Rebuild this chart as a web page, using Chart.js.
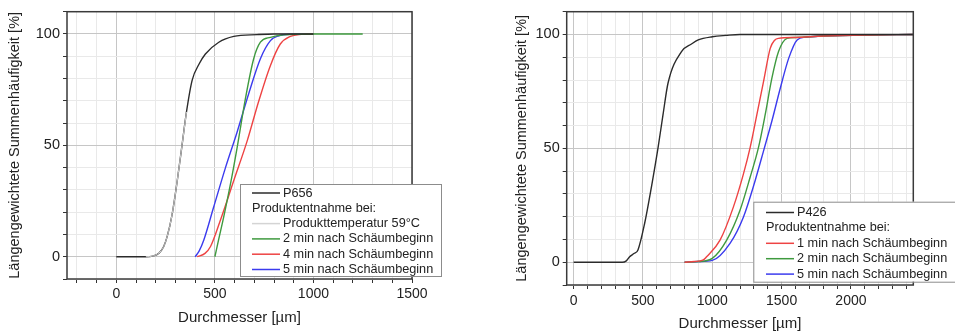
<!DOCTYPE html>
<html>
<head>
<meta charset="utf-8">
<script src="https://cdn.jsdelivr.net/npm/chart.js@4"></script>
<style>
  html, body { margin: 0; padding: 0; background: #fff; }
  #wrap { position: relative; width: 955px; height: 333px; overflow: hidden; }
  .panel { position: absolute; top: 0; height: 333px; }
  #left { left: 0; width: 480px; }
  #right { left: 480px; width: 475px; }
</style>
</head>
<body>
<div id="wrap">
  <div class="panel" id="left"><canvas id="c1" width="480" height="333"></canvas></div>
  <div class="panel" id="right"><canvas id="c2" width="475" height="333"></canvas></div>
</div>
<script>
// --- P656 (links) ---
const p656X = [0, 150, 185, 216, 240, 258, 284, 309, 334, 356, 385, 420, 452, 520, 596, 714, 800, 1000];
const p656Y = [0, 0, 0.3, 1.6, 4.5, 9, 19.4, 34, 50.4, 65, 79.3, 86.5, 91, 96.3, 98.9, 99.7, 100, 100];
const temp59X = [150, 185, 216, 240, 258, 284, 309, 334, 356];
const temp59Y = [0, 0.3, 1.6, 4.5, 9, 19.4, 34, 50.4, 65];
const p656min2X = [500, 520, 545, 580, 613, 655, 697, 731, 782, 850, 1000, 1250];
const p656min2Y = [0, 8, 17.9, 33, 49, 71, 88.9, 96.3, 98.5, 99.6, 100, 100];
const p656min4X = [410, 450, 478, 528, 596, 664, 722, 782, 832, 883, 940, 1000];
const p656min4Y = [0, 1.5, 4.6, 16.4, 34.2, 52, 69.7, 85.9, 95.5, 98.9, 99.8, 100];
const p656min5X = [400, 420, 444, 494, 554, 613, 672, 731, 782, 824, 880, 1000];
const p656min5Y = [0, 2.5, 7.5, 22.3, 40, 56, 73.3, 88.9, 97, 99.2, 99.9, 100];

// --- P426 (rechts) ---
const p426X = [0, 350, 380, 404, 435, 464, 512, 561, 609, 645, 681, 778, 850, 899, 1000, 1100, 1200, 2450];
const p426Y = [0, 0, 0.6, 2.4, 3.8, 5.4, 17, 33, 50.3, 64.9, 78.7, 92.5, 95.8, 97.6, 99, 99.6, 100, 100];
const p426min1X = [800, 870, 935, 959, 1056, 1152, 1225, 1273, 1322, 1370, 1418, 1450, 1478, 1600, 1800, 2100, 2450];
const p426min1Y = [0, 0.3, 1, 2.4, 9.7, 24.2, 38.8, 50.3, 64.9, 79.4, 93.9, 97.5, 98.3, 98.7, 99.3, 99.8, 100];
const p426min2X = [800, 900, 1000, 1104, 1200, 1273, 1333, 1382, 1430, 1478, 1539, 1600, 1800, 2100, 2450];
const p426min2Y = [0, 0.3, 1.7, 9.7, 22.8, 37.3, 50.3, 64.9, 80.8, 92.5, 98.3, 98.7, 99.3, 99.8, 100];
const p426min5X = [800, 900, 1000, 1128, 1225, 1309, 1370, 1430, 1491, 1551, 1612, 1672, 1800, 2100, 2450];
const p426min5Y = [0, 0.3, 0.8, 8.3, 19.9, 35.8, 48.9, 62, 76.5, 89.5, 97.6, 98.8, 99.3, 99.8, 100];

const FONT = '"Liberation Sans", Arial, sans-serif';
const TEXT = '#222';

const pts = (xs, ys) => xs.map((x, i) => ({ x, y: ys[i] }));
const line = (label, color, xs, ys, extra) => Object.assign({
  label, data: pts(xs, ys), borderColor: color, backgroundColor: color,
  borderWidth: 1.4, pointRadius: 0, cubicInterpolationMode: 'monotone', fill: false
}, extra || {});

// ticks on every multiple of `step` inside the axis range
const stepTicks = step => s => {
  const t = [];
  for (let v = Math.ceil(s.min / step) * step; v <= s.max + 1e-9; v += step) t.push({ value: v });
  s.ticks = t;
};

// frame around the plot area (all four sides)
const frame = {
  id: 'frame',
  afterDatasetsDraw(chart) {
    const { ctx, chartArea: a } = chart;
    ctx.save();
    ctx.strokeStyle = '#3a3a3a';
    ctx.lineWidth = 1.5;
    ctx.strokeRect(a.left, a.top, a.right - a.left, a.bottom - a.top);
    ctx.restore();
  }
};

// boxed legend with a text header after the first entry
const legendBox = {
  id: 'legendBox',
  afterDraw(chart, args, o) {
    const { ctx } = chart;
    ctx.save();
    ctx.fillStyle = '#fff';
    ctx.fillRect(o.x, o.y, o.w, o.h);
    ctx.strokeStyle = '#8c8c8c';
    ctx.lineWidth = 1;
    ctx.strokeRect(o.x + 0.5, o.y + 0.5, o.w, o.h);
    ctx.font = '12.7px ' + FONT;
    ctx.textBaseline = 'middle';
    const ds = chart.data.datasets;
    const rows = [ds[0], null, ...ds.slice(1)];
    rows.forEach((d, i) => {
      const y = o.rowTop + i * o.rowGap;
      ctx.fillStyle = TEXT;
      if (!d) { ctx.fillText(o.header, o.lineX, y); return; }
      ctx.strokeStyle = d.borderColor;
      ctx.lineWidth = 1.5;
      ctx.beginPath();
      ctx.moveTo(o.lineX, y);
      ctx.lineTo(o.lineX + o.lineW, y);
      ctx.stroke();
      ctx.fillText(d.label, o.lineX + o.lineW + 3, y);
    });
    ctx.restore();
  }
};

function makeChart(id, datasets, cfg) {
  const W = cfg.w, H = 333, a = cfg.area;
  return new Chart(document.getElementById(id), {
    type: 'line',
    data: { datasets },
    plugins: [frame, legendBox],
    options: {
      responsive: false,
      animation: false,
      layout: { padding: { top: a.top, right: W - a.right, left: 0, bottom: 0 } },
      plugins: { legend: { display: false }, tooltip: { enabled: false }, legendBox: cfg.legend },
      scales: {
        x: {
          type: 'linear', min: cfg.xMin, max: cfg.xMax,
          afterBuildTicks: stepTicks(100),
          afterFit: s => { s.height = H - a.bottom; },
          border: { display: false },
          grid: {
            color: c => (c.tick && c.tick.value % 500 === 0) ? '#c6c6c6' : '#e9e9e9',
            tickColor: '#333', tickLength: 4, lineWidth: 1
          },
          ticks: {
            autoSkip: false, maxRotation: 0, padding: cfg.xTickPad,
            color: TEXT, font: { family: FONT, size: 14 },
            callback: v => (v % 500 === 0 ? String(v) : '')
          },
          title: {
            display: true, text: 'Durchmesser [µm]', color: TEXT,
            font: { family: FONT, size: 15 }, padding: { top: 0, bottom: cfg.xTitlePad }
          }
        },
        y: {
          type: 'linear', min: -10, max: 110,
          afterBuildTicks: stepTicks(10),
          afterFit: s => { s.width = a.left; },
          border: { display: false },
          grid: {
            color: c => (c.tick && c.tick.value % 50 === 0) ? '#c6c6c6' : '#e9e9e9',
            tickColor: '#333', tickLength: 4, lineWidth: 1
          },
          ticks: {
            autoSkip: false, padding: 3,
            color: TEXT, font: { family: FONT, size: 14.5 },
            callback: v => (v % 50 === 0 ? String(v) : '')
          },
          title: {
            display: true, text: 'Längengewichtete Summenhäufigkeit [%]', color: TEXT,
            font: { family: FONT, size: 14.5 }, padding: { top: cfg.yTitlePad, bottom: 0 }
          }
        }
      }
    }
  });
}

makeChart('c1', [
  line('P656', '#2b2b2b', p656X, p656Y, { order: 1 }),
  line('Produkttemperatur 59°C', '#d4d4d4', temp59X, temp59Y, { order: 0, borderWidth: 1 }),
  line('2 min nach Schäumbeginn', '#3f9a3f', p656min2X, p656min2Y, { order: 1 }),
  line('4 min nach Schäumbeginn', '#ee4343', p656min4X, p656min4Y, { order: 1 }),
  line('5 min nach Schäumbeginn', '#3b3bee', p656min5X, p656min5Y, { order: 1 })
], {
  w: 480, area: { left: 67, right: 412, top: 9, bottom: 279 },
  xMin: -250, xMax: 1500, xTickPad: 3, xTitlePad: 6, yTitlePad: 6,
  legend: { x: 240, y: 184, w: 201, h: 92, rowTop: 193, rowGap: 15.3, lineX: 252, lineW: 28,
            header: 'Produktentnahme bei:' }
});

makeChart('c2', [
  line('P426', '#2b2b2b', p426X, p426Y),
  line('1 min nach Schäumbeginn', '#ee4343', p426min1X, p426min1Y),
  line('2 min nach Schäumbeginn', '#3f9a3f', p426min2X, p426min2Y),
  line('5 min nach Schäumbeginn', '#3b3bee', p426min5X, p426min5Y)
], {
  w: 475, area: { left: 86.7, right: 433.3, top: 10, bottom: 285 },
  xMin: -50, xMax: 2450, xTickPad: 4, xTitlePad: 0, yTitlePad: 33,
  legend: { x: 273.3, y: 201.7, w: 205, h: 80, rowTop: 212.5, rowGap: 15.4, lineX: 286, lineW: 28,
            header: 'Produktentnahme bei:' }
});
</script>
</body>
</html>
